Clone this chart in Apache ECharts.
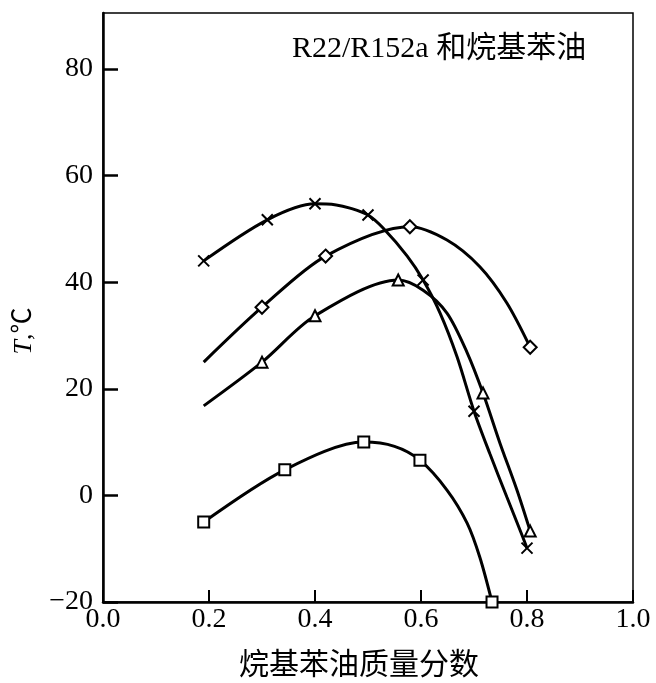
<!DOCTYPE html>
<html lang="zh">
<head>
  <meta charset="UTF-8" />
  <title>R22/R152a 和烷基苯油</title>
  <script src="https://cdn.jsdelivr.net/npm/echarts@6/dist/echarts.min.js"></script>
  <style>
    html, body { margin: 0; padding: 0; width: 100%; height: 100%; overflow: hidden; background: #fff; }
    #chart { width: 656px; height: 683px; }
  </style>
</head>
<body>
<div id="chart"></div>
<script>
  // measured points: x = 烷基苯油质量分数, y = T (℃)
  var crossX = [0.19, 0.31, 0.40, 0.50, 0.604, 0.70, 0.80];
  var crossY = [44, 51.7, 54.7, 52.6, 40.4, 15.8, -9.9];
  var diamondX = [0.30, 0.42, 0.579, 0.806];
  var diamondY = [35.3, 44.9, 50.4, 27.8];
  var triangleX = [0.30, 0.40, 0.557, 0.717, 0.806];
  var triangleY = [25, 33.7, 40.4, 19.2, -6.7];
  var squareX = [0.19, 0.343, 0.492, 0.598, 0.734];
  var squareY = [-5, 4.8, 10, 6.6, -20];

  // extra points (no marker)
  var crossTraceX = [0.44, 0.466, 0.528, 0.574, 0.636, 0.668, 0.730, 0.762, 0.792];
  var crossTraceY = [54.5, 53.9, 50.2, 44.9, 34.2, 26, 7.8, -0.3, -7.8];
  var diamondTraceX = [0.19, 0.649, 0.711, 0.762];
  var diamondTraceY = [25, 47.9, 42.9, 36.1];
  var triangleTraceX = [0.19, 0.604, 0.649, 0.687, 0.749, 0.781];
  var triangleTraceY = [16.8, 38.5, 34.2, 26.8, 9.8, 1.0];
  var squareTraceX = [0.55, 0.649, 0.687, 0.711];
  var squareTraceY = [9.2, 1.0, -5.2, -11.6];

  var xTicks = [0, 0.2, 0.4, 0.6, 0.8, 1.0];
  var yTicks = [-20, 0, 20, 40, 60, 80];

  function pairs(xs, ys) {
    return xs.map(function (x, i) { return [x, ys[i]]; });
  }
  function curve(xs, ys, tx, ty) {
    return pairs(xs, ys).concat(pairs(tx, ty)).sort(function (a, b) { return a[0] - b[0]; });
  }

  var serif = "'Liberation Serif', 'Noto Sans CJK SC', serif";
  var crossPath = 'path://M0,0L10,10M10,0L0,10';

  function lineSeries(data) {
    return {
      type: 'line', data: data, smooth: 0.3, symbol: 'none', silent: true,
      lineStyle: { color: '#000', width: 3 }
    };
  }
  function markSeries(data, symbol, size) {
    return {
      type: 'scatter', data: data, symbol: symbol, symbolSize: size, z: 5,
      itemStyle: { color: '#fff', borderColor: '#000', borderWidth: 2, opacity: 1 }
    };
  }

  var chart = echarts.init(document.getElementById('chart'));
  chart.setOption({
    backgroundColor: '#fff',
    animation: false,
    grid: { left: 103, right: 23, top: 13, bottom: 81, show: true, borderColor: '#000', borderWidth: 1.5 },
    xAxis: {
      type: 'value', min: xTicks[0], max: xTicks[xTicks.length - 1], interval: 0.2,
      axisLine: { onZero: false, lineStyle: { color: '#000', width: 2.5 } },
      axisTick: { inside: true, length: 12, lineStyle: { color: '#000', width: 2 } },
      splitLine: { show: false },
      axisLabel: {
        color: '#000', fontFamily: serif, fontSize: 28, margin: 4,
        formatter: function (v) { return v.toFixed(1); }
      }
    },
    yAxis: {
      type: 'value', min: yTicks[0], max: 90.5, interval: 20,
      axisLine: { lineStyle: { color: '#000', width: 2.5 } },
      axisTick: { inside: true, length: 15, lineStyle: { color: '#000', width: 2.5 } },
      splitLine: { show: false },
      axisLabel: {
        color: '#000', fontFamily: serif, fontSize: 28, margin: 10, showMaxLabel: false,
        formatter: function (v) { return v < 0 ? '\u2212' + Math.abs(v) : String(v); }
      }
    },
    graphic: [
      {
        type: 'text', left: 292, top: 34,
        style: { text: 'R22/R152a 和烷基苯油', font: '30px ' + serif, fill: '#000' }
      },
      {
        type: 'text', x: 359, y: 663,
        style: { text: '烷基苯油质量分数', font: "30px 'Noto Sans CJK SC'", fill: '#000', align: 'center', verticalAlign: 'middle' }
      },
      {
        type: 'text', x: 24, y: 331, rotation: Math.PI / 2,
        style: {
          text: '{i|T},℃', fill: '#000', align: 'center', verticalAlign: 'middle',
          rich: {
            i: { fontFamily: serif, fontStyle: 'italic', fontSize: 26 }
          },
          font: '26px ' + serif
        }
      }
    ],
    series: [
      lineSeries(curve(crossX, crossY, crossTraceX, crossTraceY)),
      lineSeries(curve(diamondX, diamondY, diamondTraceX, diamondTraceY)),
      lineSeries(curve(triangleX, triangleY, triangleTraceX, triangleTraceY)),
      lineSeries(curve(squareX, squareY, squareTraceX, squareTraceY)),
      markSeries(pairs(crossX, crossY), crossPath, 11),
      markSeries(pairs(diamondX, diamondY), 'diamond', 13),
      markSeries(pairs(triangleX, triangleY), 'triangle', 11),
      markSeries(pairs(squareX, squareY), 'rect', 11)
    ]
  });
</script>
</body>
</html>
